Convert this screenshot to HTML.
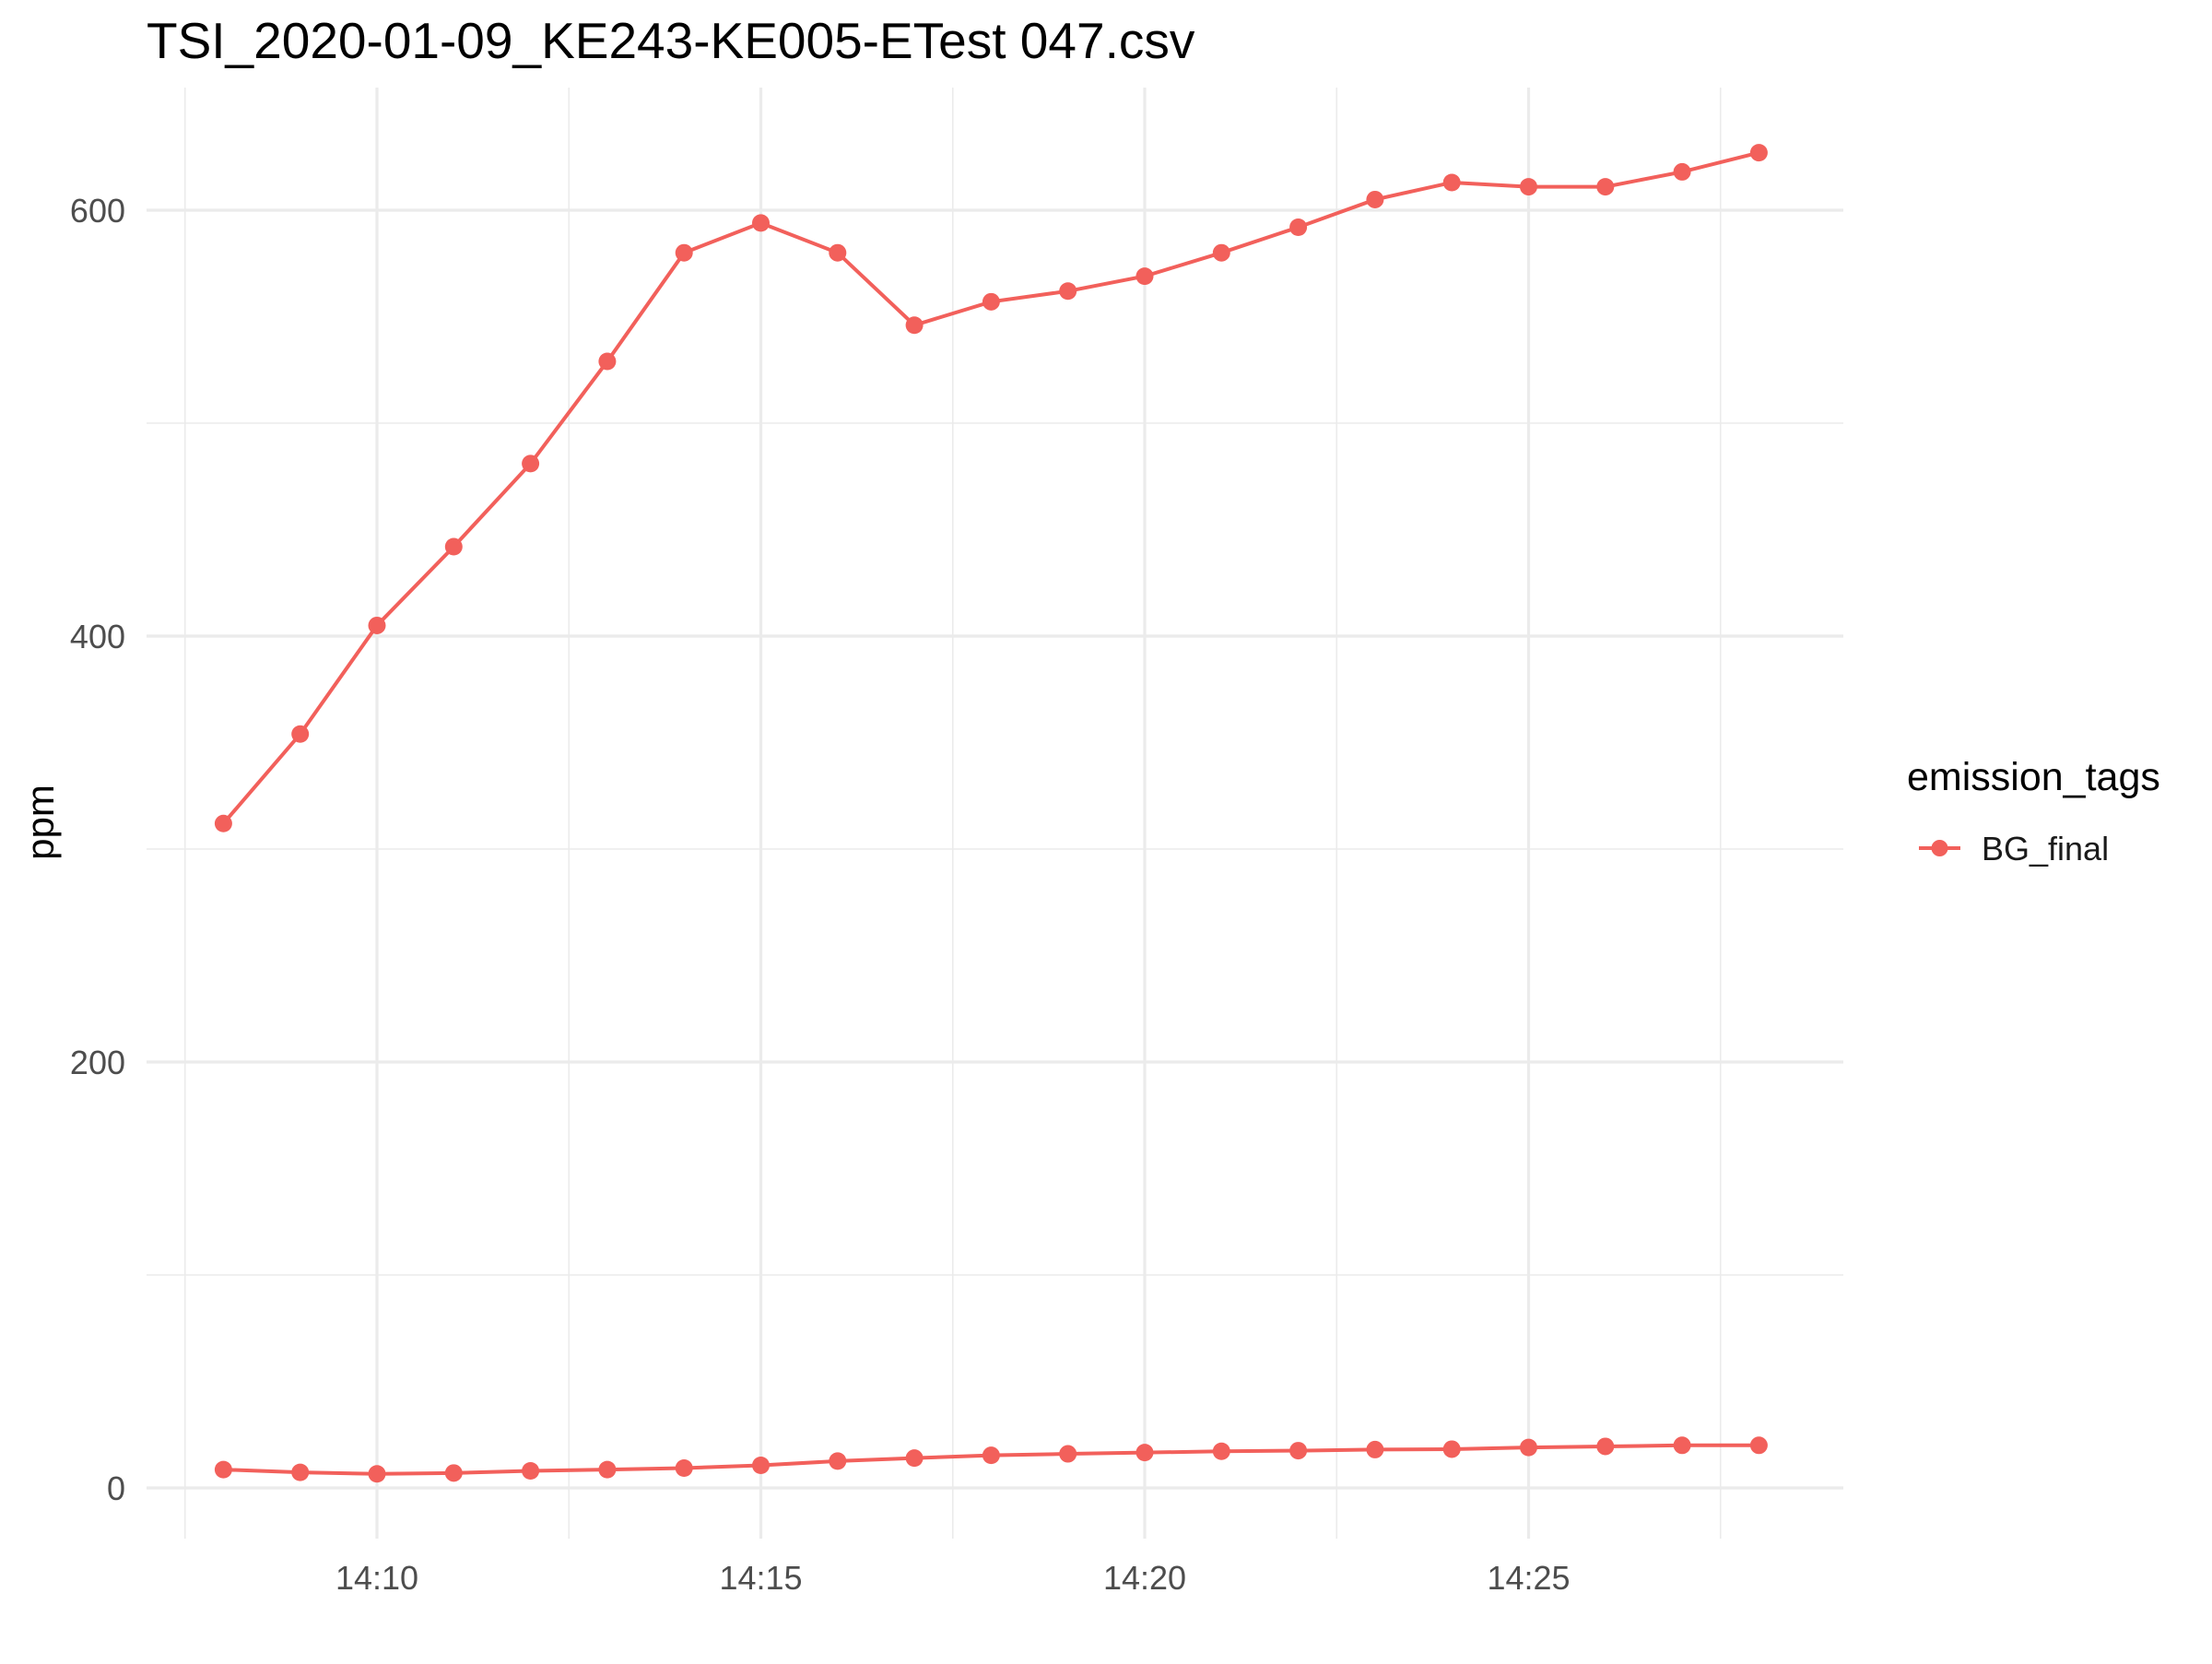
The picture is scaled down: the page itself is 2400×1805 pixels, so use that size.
<!DOCTYPE html>
<html><head><meta charset="utf-8"><style>
body{margin:0;background:#fff}
svg text{font-family:"Liberation Sans",Arial,sans-serif}
</style></head><body>
<svg id="chart" width="2400" height="1800" viewBox="0 0 2400 1800" xmlns="http://www.w3.org/2000/svg">
<rect width="2400" height="1800" fill="#fff"/>
<text x="159" y="63" font-size="55" fill="#000">TSI_2020-01-09_KE243-KE005-ETest 047.csv</text>
<g id="grid"></g>
<g id="series"></g>
<g id="axes"></g>
<text transform="translate(58,892) rotate(-90)" font-size="42" text-anchor="middle" fill="#000">ppm</text>
<g>
<text x="2069" y="857" font-size="43" fill="#000">emission_tags</text>
<line x1="2082" y1="920" x2="2127" y2="920" stroke="#F2605B" stroke-width="4"/>
<circle cx="2104.5" cy="920" r="9" fill="#F2605B"/>
<text x="2150" y="933" font-size="36" fill="#1a1a1a">BG_final</text>
</g>
</svg>
<script>
const minutes=[8,9,10,11,12,13,14,15,16,17,18,19,20,21,22,23,24,25,26,27,28];
const upperValues=[312,354,405,442,481,529,580,594,580,546,557,562,569,580,592,605,613,611,611,618,627];
const lowerValues=[8.6,7.3,6.6,7,8,8.6,9.3,10.6,12.6,14,15.3,16,16.6,17.2,17.5,18,18.2,19,19.5,20,20];
const yTicks=[0,200,400,600];
const yMinor=[100,300,500];
const xTicks=[10,15,20,25];
const xTickLabels=["14:10","14:15","14:20","14:25"];
const xMinor=[7.5,12.5,17.5,22.5,27.5];

const NS="http://www.w3.org/2000/svg";
const PL=159,PR=2000,PT=95,PB=1669;
function xs(m){return 409+(m-10)*83.3;}
function ys(v){return 1614-v*2.31;}
function mk(tag,attrs,parent){const e=document.createElementNS(NS,tag);for(const k in attrs)e.setAttribute(k,attrs[k]);parent.appendChild(e);return e;}
const grid=document.getElementById('grid'),series=document.getElementById('series'),axes=document.getElementById('axes');
yMinor.forEach(v=>{const l=mk('line',{x1:PL,x2:PR,y1:ys(v),y2:ys(v),stroke:'#EBEBEB','stroke-width':1.6},grid);

});
xMinor.forEach(m=>{const l=mk('line',{x1:xs(m),x2:xs(m),y1:PT,y2:PB,stroke:'#EBEBEB','stroke-width':1.6},grid);

});
yTicks.forEach(v=>{const l=mk('line',{x1:PL,x2:PR,y1:ys(v),y2:ys(v),stroke:'#EBEBEB','stroke-width':3.2},grid);


const t=mk('text',{x:136,y:ys(v)+13,'font-size':36,'text-anchor':'end',fill:'#4d4d4d'},axes);
t.textContent=String(v);

});
xTicks.forEach((m,i)=>{const l=mk('line',{x1:xs(m),x2:xs(m),y1:PT,y2:PB,stroke:'#EBEBEB','stroke-width':3.2},grid);


const t=mk('text',{x:xs(m),y:1724,'font-size':36,'text-anchor':'middle',fill:'#4d4d4d'},axes);
t.textContent=xTickLabels[i];

});
function drawSeries(vals,name){
 const p=mk('polyline',{points:minutes.map((m,i)=>xs(m)+','+ys(vals[i])).join(' '),fill:'none',stroke:'#F2605B','stroke-width':4},series);
 
 
 minutes.forEach((m,i)=>{const c=mk('circle',{cx:xs(m),cy:ys(vals[i]),r:9.5,fill:'#F2605B'},series);
 
 });
}
drawSeries(upperValues,'upper-series');
drawSeries(lowerValues,'lower-series');
</script>
</body></html>
